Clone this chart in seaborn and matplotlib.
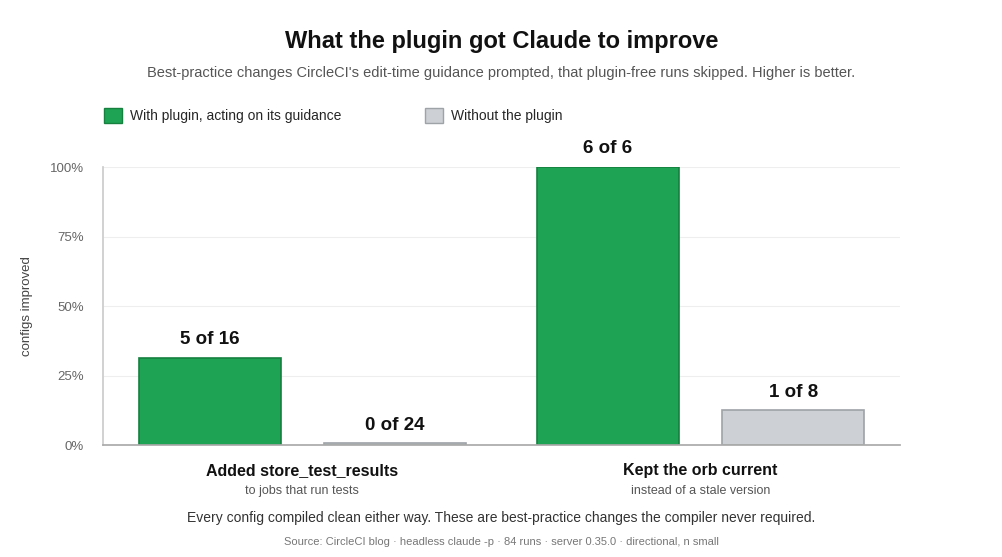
import pandas as pd
import numpy as np
import seaborn as sns
import matplotlib.pyplot as plt
from matplotlib.patches import Patch

sns.set_theme(style="white")
plt.rcParams['font.family'] = ['Liberation Sans', 'DejaVu Sans']

# %% Data
tasks = ["Added store_test_results", "Kept the orb current"]
subtitles = ["to jobs that run tests", "instead of a stale version"]
conditions = ["With plugin, acting on its guidance", "Without the plugin"]
improved = [[5, 0], [6, 1]]
totals = [[16, 24], [6, 8]]

rows = []
for i, t in enumerate(tasks):
    for j, c in enumerate(conditions):
        rows.append({"task": t, "cond": c, "n": improved[i][j], "tot": totals[i][j],
                     "pct": 100 * improved[i][j] / totals[i][j]})
df = pd.DataFrame(rows)

green, grey = "#1da353", "#cdd1d5"
edges = {conditions[0]: "#16803f", conditions[1]: "#9ea3a8"}

# %% Plot
fig = plt.figure(figsize=(10.03, 5.57), dpi=100)
ax = fig.add_axes([0.103, 0.201, 0.794, 0.499])
sns.barplot(data=df, x="task", y="pct", hue="cond", hue_order=conditions,
            palette=[green, grey], saturation=1, width=0.93, gap=0.23, ax=ax, legend=False,
            linewidth=1.2)

order = {**{c: k for k, c in enumerate(conditions)}, **{t: k for k, t in enumerate(tasks)}}
for bar, (_, r) in zip(ax.patches, df.sort_values(["cond", "task"], key=lambda s: s.map(order)).iterrows()):
    bar.set_edgecolor(edges[r["cond"]])
    h = max(r["pct"], 0.6)
    bar.set_height(h)
    ax.text(bar.get_x() + bar.get_width() / 2, h + 3.5, f"{r['n']} of {r['tot']}",
            ha="center", va="bottom", fontsize=13.5, fontweight="bold", color="#111")

ax.set_ylim(0, 100)
ax.set_xlim(-0.5, 1.5)
ax.set_yticks([0, 25, 50, 75, 100])
ax.set_yticklabels(["0%", "25%", "50%", "75%", "100%"], color="#666", fontsize=9.5)
ax.yaxis.grid(True, color="#eeeeee", linewidth=0.8)
ax.set_axisbelow(True)
for s in ["top", "right"]:
    ax.spines[s].set_visible(False)
ax.spines["left"].set_color("#cccccc")
ax.spines["bottom"].set_color("#aaaaaa")
ax.set_xlabel("")
ax.set_ylabel("configs improved", color="#444", fontsize=9.5, labelpad=12)
ax.set_xticks([0, 1])
ax.set_xticklabels([""] * 2)
ax.tick_params(axis="y", length=0, pad=14)
for i, (t, s) in enumerate(zip(tasks, subtitles)):
    ax.text(i, -6.5, t, ha="center", va="top", fontsize=11.5, fontweight="bold", color="#111", clip_on=False)
    ax.text(i, -14.5, s, ha="center", va="top", fontsize=9, color="#555", clip_on=False)

fig.text(0.5, 0.913, "What the plugin got Claude to improve", ha="center", fontsize=17, fontweight="bold", color="#111")
fig.text(0.5, 0.862, "Best-practice changes CircleCI's edit-time guidance prompted, that plugin-free runs skipped. Higher is better.",
         ha="center", fontsize=10.5, color="#555")
fig.text(0.5, 0.062, "Every config compiled clean either way. These are best-practice changes the compiler never required.",
         ha="center", fontsize=10, color="#333")
fig.text(0.5, 0.022, "Source: CircleCI blog · headless claude -p · 84 runs · server 0.35.0 · directional, n small",
         ha="center", fontsize=8, color="#777")

handles = [Patch(facecolor=green, edgecolor=edges[conditions[0]]), Patch(facecolor=grey, edgecolor=edges[conditions[1]])]
fig.legend(handles, conditions, loc="center left", bbox_to_anchor=(0.091, 0.793), ncol=2, frameon=False,
           fontsize=10, handlelength=1.3, handleheight=1.3, columnspacing=6.0, handletextpad=0.6)

fig.savefig("out.png", dpi=100)
